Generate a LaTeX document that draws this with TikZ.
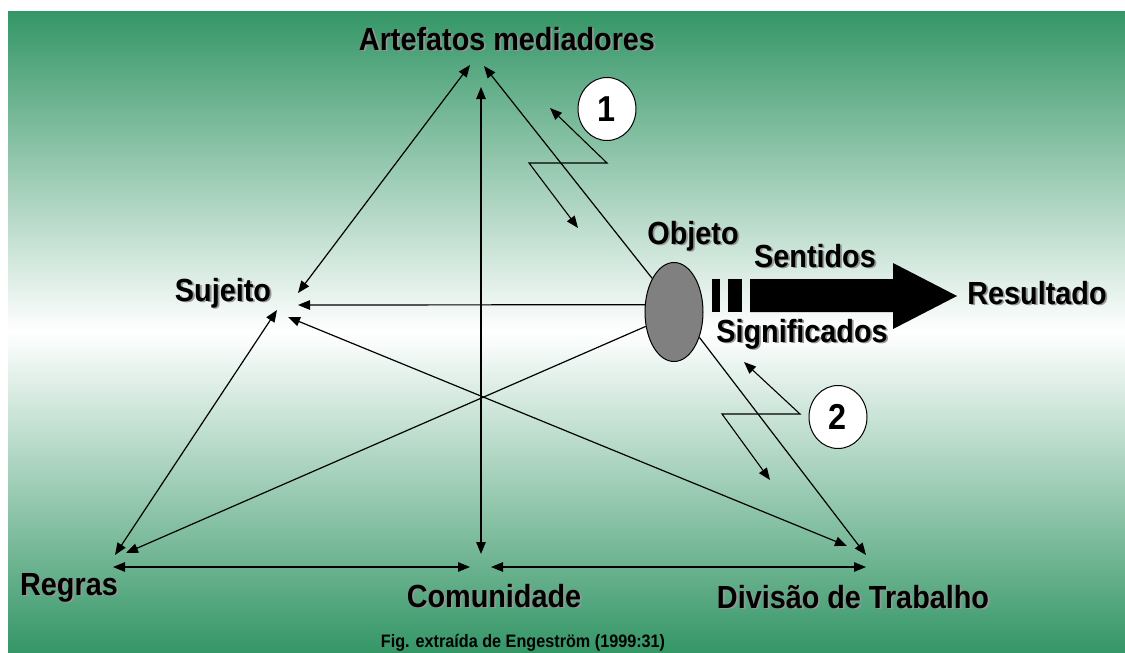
\documentclass[tikz,border=0pt]{standalone}
\usepackage{fontspec}
\setmainfont{Liberation Sans}[FakeStretch=0.9]
\usetikzlibrary{arrows.meta,shapes.geometric}
\definecolor{bggreen}{RGB}{52,150,102}
\definecolor{shadowgray}{RGB}{150,150,150}
\definecolor{objgray}{RGB}{128,128,128}
\newcommand\shlabel[3]{%
  \node[lbl,text=shadowgray] (#1-sh) at ([shift={(1.8,1.8)}]#2) {#3};
  \node[lbl] (#1) at (#2) {#3};}
\begin{document}
\begin{tikzpicture}[x=1pt,y=-1pt,
  >={Triangle[length=12pt,width=9.5pt]},
  conn/.style={draw=black,line width=1.2pt},
  dbl/.style={conn,<->},
  sgl/.style={conn,->},
  lbl/.style={font=\bfseries\fontsize{32}{32}\selectfont,anchor=base,inner sep=0pt},
  numcirc/.style={draw=black,fill=white,ellipse,line width=1pt,inner sep=0pt,
    minimum width=58pt,minimum height=63pt,font=\bfseries\fontsize{36}{36}\selectfont}]
\useasboundingbox (0,0) rectangle (1125,653);
\shade[top color=bggreen,bottom color=bggreen,middle color=white] (8,11) rectangle (1125,653);

% named end points
\coordinate (sA) at (298,293);
\coordinate (aS) at (470,65);
\coordinate (aV) at (481,87);
\coordinate (cV) at (481,554);
\coordinate (aO) at (484,66);
\coordinate (sO) at (298,305);
\coordinate (rO) at (126,553);
\coordinate (sR) at (277,310);
\coordinate (rS) at (115,555);
\coordinate (sD) at (288,317);
\coordinate (dS) at (847,546);
\coordinate (dO) at (866,555);
\coordinate (rC) at (113,567);
\coordinate (cR) at (470,567);
\coordinate (cD) at (491,567);
\coordinate (dC) at (866,567);
\coordinate (z1a) at (550,108);
\coordinate (z1b) at (607,163);
\coordinate (z1c) at (529,163);
\coordinate (z1d) at (578,228);
\coordinate (z2a) at (744,362);
\coordinate (z2b) at (800,414);
\coordinate (z2c) at (722,414);
\coordinate (z2d) at (770,480);

% object ellipse
\node[draw=black,fill=objgray,ellipse,line width=1pt,inner sep=0pt,
  minimum width=58pt,minimum height=99pt] (obj) at (674,312) {};

% connectors
\draw[dbl] (sA) -- (aS);
\draw[dbl] (aV) -- (cV);
\draw[sgl] (obj.123) -- (aO);
\draw[sgl] (obj.166) -- (sO);
\draw[sgl] (obj.207) -- (rO);
\draw[sgl] (obj.315) -- (dO);
\draw[dbl] (sR) -- (rS);
\draw[dbl] (sD) -- (dS);
\draw[dbl] (rC) -- (cR);
\draw[dbl] (cD) -- (dC);

% zig-zag arrows
\draw[dbl,line width=1.1pt] (z1a) -- (z1b) -- (z1c) -- (z1d);
\draw[dbl,line width=1.1pt] (z2a) -- (z2b) -- (z2c) -- (z2d);

% numbered circles
\node[numcirc] (c1) at (607,109) {1};
\node[numcirc] (c2) at (838,417) {2};

% big arrow
\fill[black] (712,279) rectangle (720,312);
\fill[black] (728,279) rectangle (742,312);
\fill[black] (750,279) -- (893,279) -- (893,263) -- (957,296) -- (893,329) -- (893,312) -- (750,312) -- cycle;

% labels
\shlabel{art}{507,50}{Artefatos mediadores}
\shlabel{objl}{693,244}{Objeto}
\shlabel{sent}{815,267}{Sentidos}
\shlabel{sig}{802,342}{Significados}
\shlabel{res}{1037,304}{Resultado}
\shlabel{suj}{223,301}{Sujeito}
\shlabel{reg}{69,595}{Regras}
\shlabel{com}{494,607}{Comunidade}
\shlabel{div}{853,608}{Divisão de Trabalho}

\node[font=\bfseries\fontsize{18}{18}\selectfont,anchor=base,inner sep=0pt] (fig) at (523,647) {Fig. extraída de Engeström (1999:31)};
\end{tikzpicture}
\end{document}
